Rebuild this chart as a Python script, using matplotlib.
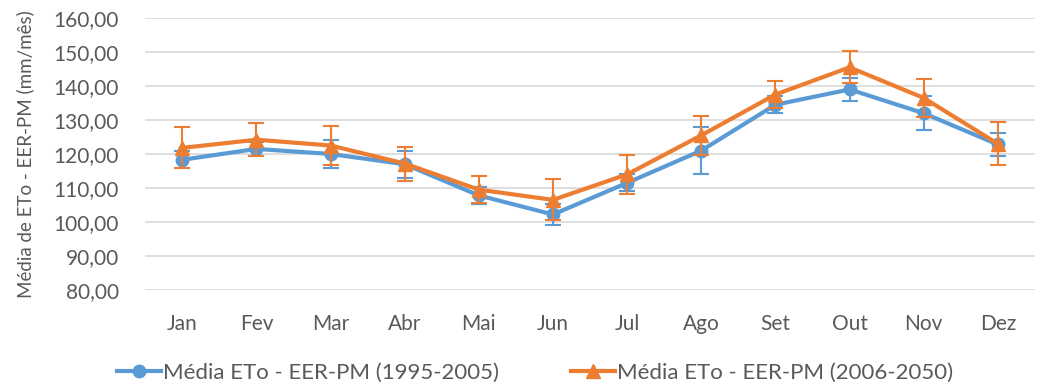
import numpy as np
import matplotlib.pyplot as plt
from matplotlib.lines import Line2D

meses = ['Jan', 'Fev', 'Mar', 'Abr', 'Mai', 'Jun', 'Jul', 'Ago', 'Set', 'Out', 'Nov', 'Dez']
eto_1995_2005 = [118.3, 121.5, 120.0, 117.0, 107.8, 102.2, 111.5, 121.0, 134.5, 139.0, 132.0, 122.8]
err_1995_2005 = [2.5, 2.0, 4.0, 4.0, 2.5, 3.0, 2.5, 7.0, 2.5, 3.5, 5.0, 3.5]
eto_2006_2050 = [121.8, 124.2, 122.5, 117.2, 109.5, 106.5, 114.0, 125.5, 137.5, 145.5, 136.5, 123.0]
err_2006_2050 = [6.0, 4.8, 5.7, 5.0, 4.0, 6.0, 5.8, 5.7, 4.0, 4.7, 5.7, 6.3]
rotulos = ['Média ETo - EER-PM (1995-2005)', 'Média ETo - EER-PM (2006-2050)']

azul = '#5B9BD5'
laranja = '#ED7D31'
cinza = '#595959'

plt.rcParams['font.family'] = ['Lato', 'DejaVu Sans']

fig = plt.figure(figsize=(10.37, 3.85), dpi=100)
ax = fig.add_axes([0.14, 0.247, 0.858, 0.706])

x = np.arange(len(meses))
ax.errorbar(x, eto_1995_2005, yerr=err_1995_2005, color=azul, lw=3, marker='o', ms=9,
            capsize=6, elinewidth=1.5, capthick=1.5, zorder=3)
ax.errorbar(x, eto_2006_2050, yerr=err_2006_2050, color=laranja, lw=3, marker='^', ms=10,
            capsize=6, elinewidth=1.5, capthick=1.5, zorder=4)

ax.set_xlim(-0.5, len(meses) - 0.5)
ax.set_ylim(80, 160)
ax.set_yticks(np.arange(80, 161, 10))
ax.set_yticklabels(['%d,00' % v for v in range(80, 161, 10)])
ax.set_xticks(x)
ax.set_xticklabels(meses)
ax.grid(axis='y', color='#D9D9D9', lw=1.2)
ax.set_axisbelow(True)
for s in ax.spines.values():
    s.set_visible(False)
ax.tick_params(length=0, colors=cinza, labelsize=15)
ax.tick_params(axis='y', pad=19)
ax.tick_params(axis='x', pad=17)
ax.set_ylabel('Média de ETo - EER-PM (mm/mês)', color=cinza, fontsize=13.5, labelpad=14)

alcas = [Line2D([], [], color=azul, lw=3, marker='o', ms=9),
         Line2D([], [], color=laranja, lw=3, marker='^', ms=10)]
fig.legend(alcas, rotulos, loc='center', bbox_to_anchor=(0.516, 0.032), ncol=2, frameon=False,
           fontsize=16, labelcolor=cinza, handlelength=2.0, columnspacing=3.2,
           handletextpad=0.1)

fig.savefig('out.png', dpi=100)
